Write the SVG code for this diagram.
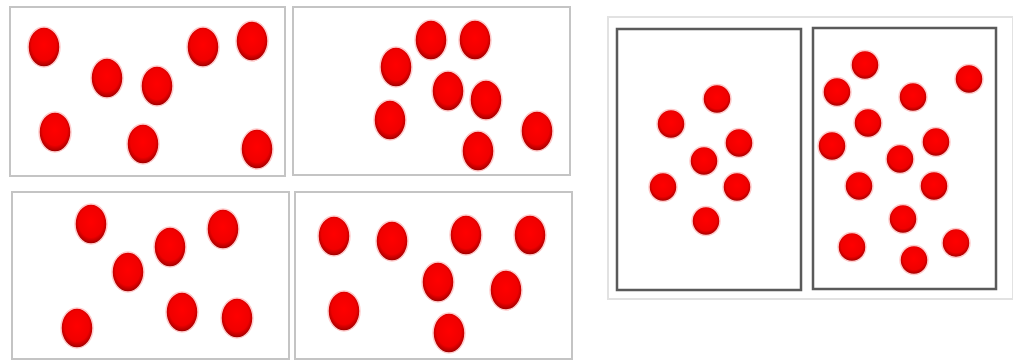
<svg xmlns="http://www.w3.org/2000/svg" width="1013" height="363" viewBox="0 0 1013 363">
<defs>
<radialGradient id="dotg" cx="0.5" cy="0.45" r="0.55">
<stop offset="0" stop-color="#ff0000"/>
<stop offset="0.7" stop-color="#f00000"/>
<stop offset="0.9" stop-color="#b80000"/>
<stop offset="1" stop-color="#8a0000"/>
</radialGradient>
</defs>
<style>
.panel{fill:#ffffff;stroke:#c4c4c4;stroke-width:2}
.frame{fill:#ffffff;stroke:#e2e2e2;stroke-width:2}
.box{fill:#ffffff;stroke:#5a5a5a;stroke-width:2.5}
.dot{fill:url(#dotg);stroke:#ffcccc;stroke-width:1.5}
</style>
<rect x="0" y="0" width="1013" height="363" fill="#ffffff"/>
<g id="panel1">
<rect class="panel" x="10" y="7" width="275" height="169"/>
<ellipse class="dot" cx="44" cy="47" rx="16" ry="20"/>
<ellipse class="dot" cx="107" cy="78" rx="16" ry="20"/>
<ellipse class="dot" cx="157" cy="86" rx="16" ry="20"/>
<ellipse class="dot" cx="203" cy="47" rx="16" ry="20"/>
<ellipse class="dot" cx="252" cy="41" rx="16" ry="20"/>
<ellipse class="dot" cx="55" cy="132" rx="16" ry="20"/>
<ellipse class="dot" cx="143" cy="144" rx="16" ry="20"/>
<ellipse class="dot" cx="257" cy="149" rx="16" ry="20"/>
</g>
<g id="panel2">
<rect class="panel" x="293" y="7" width="277" height="168"/>
<ellipse class="dot" cx="431" cy="40" rx="16" ry="20"/>
<ellipse class="dot" cx="475" cy="40" rx="16" ry="20"/>
<ellipse class="dot" cx="396" cy="67" rx="16" ry="20"/>
<ellipse class="dot" cx="448" cy="91" rx="16" ry="20"/>
<ellipse class="dot" cx="486" cy="100" rx="16" ry="20"/>
<ellipse class="dot" cx="390" cy="120" rx="16" ry="20"/>
<ellipse class="dot" cx="537" cy="131" rx="16" ry="20"/>
<ellipse class="dot" cx="478" cy="151" rx="16" ry="20"/>
</g>
<g id="panel3">
<rect class="panel" x="12" y="192" width="277" height="167"/>
<ellipse class="dot" cx="91" cy="224" rx="16" ry="20"/>
<ellipse class="dot" cx="128" cy="272" rx="16" ry="20"/>
<ellipse class="dot" cx="170" cy="247" rx="16" ry="20"/>
<ellipse class="dot" cx="223" cy="229" rx="16" ry="20"/>
<ellipse class="dot" cx="77" cy="328" rx="16" ry="20"/>
<ellipse class="dot" cx="182" cy="312" rx="16" ry="20"/>
<ellipse class="dot" cx="237" cy="318" rx="16" ry="20"/>
</g>
<g id="panel4">
<rect class="panel" x="295" y="192" width="277" height="167"/>
<ellipse class="dot" cx="334" cy="236" rx="16" ry="20"/>
<ellipse class="dot" cx="392" cy="241" rx="16" ry="20"/>
<ellipse class="dot" cx="466" cy="235" rx="16" ry="20"/>
<ellipse class="dot" cx="530" cy="235" rx="16" ry="20"/>
<ellipse class="dot" cx="438" cy="282" rx="16" ry="20"/>
<ellipse class="dot" cx="506" cy="290" rx="16" ry="20"/>
<ellipse class="dot" cx="344" cy="311" rx="16" ry="20"/>
<ellipse class="dot" cx="449" cy="333" rx="16" ry="20"/>
</g>
<g id="rightframe">
<rect class="frame" x="608" y="17" width="405" height="282"/>
</g>
<g id="panel5">
<rect class="box" x="617" y="29" width="184" height="261"/>
<ellipse class="dot" cx="717" cy="99" rx="14" ry="14.5"/>
<ellipse class="dot" cx="671" cy="124" rx="14" ry="14.5"/>
<ellipse class="dot" cx="739" cy="143" rx="14" ry="14.5"/>
<ellipse class="dot" cx="704" cy="161" rx="14" ry="14.5"/>
<ellipse class="dot" cx="663" cy="187" rx="14" ry="14.5"/>
<ellipse class="dot" cx="737" cy="187" rx="14" ry="14.5"/>
<ellipse class="dot" cx="706" cy="221" rx="14" ry="14.5"/>
</g>
<g id="panel6">
<rect class="box" x="813" y="28" width="183" height="261"/>
<ellipse class="dot" cx="865" cy="65" rx="14" ry="14.5"/>
<ellipse class="dot" cx="837" cy="92" rx="14" ry="14.5"/>
<ellipse class="dot" cx="969" cy="79" rx="14" ry="14.5"/>
<ellipse class="dot" cx="913" cy="97" rx="14" ry="14.5"/>
<ellipse class="dot" cx="868" cy="123" rx="14" ry="14.5"/>
<ellipse class="dot" cx="832" cy="146" rx="14" ry="14.5"/>
<ellipse class="dot" cx="936" cy="142" rx="14" ry="14.5"/>
<ellipse class="dot" cx="900" cy="159" rx="14" ry="14.5"/>
<ellipse class="dot" cx="859" cy="186" rx="14" ry="14.5"/>
<ellipse class="dot" cx="934" cy="186" rx="14" ry="14.5"/>
<ellipse class="dot" cx="903" cy="219" rx="14" ry="14.5"/>
<ellipse class="dot" cx="852" cy="247" rx="14" ry="14.5"/>
<ellipse class="dot" cx="956" cy="243" rx="14" ry="14.5"/>
<ellipse class="dot" cx="914" cy="260" rx="14" ry="14.5"/>
</g>
</svg>
